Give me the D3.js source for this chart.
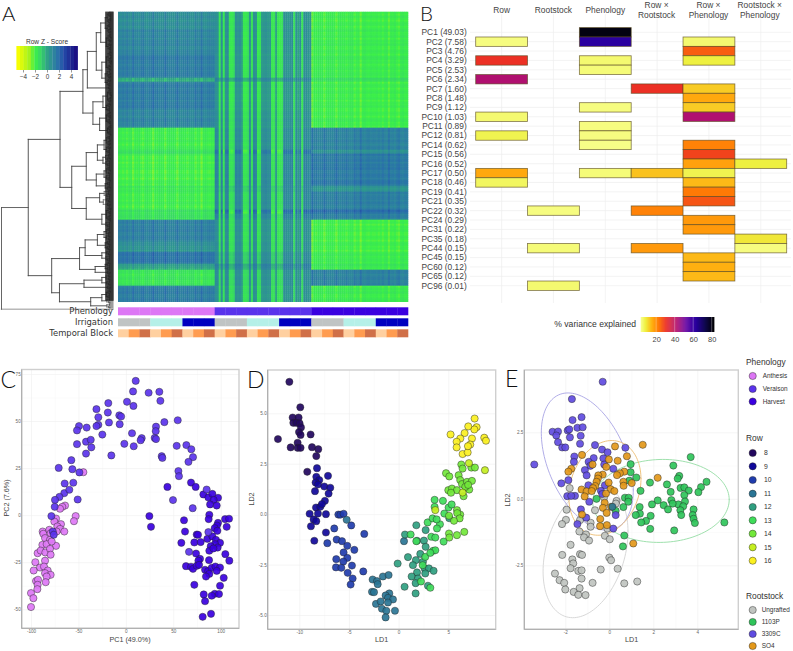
<!DOCTYPE html>
<html><head><meta charset="utf-8">
<style>html,body{margin:0;padding:0;background:#fff}svg{display:block}text{font-family:"Liberation Sans",Arial,sans-serif}</style>
<script src="https://cdn.jsdelivr.net/npm/d3@7"></script></head><body>
<div id="chart"></div>
<script>
/* ---------- A: heatmap ---------- */
const zDomain=[-5,-3,-2,-1,0,1,2,3,5];
const zColors=["#ffff00","#a4f21e","#3cf04a","#38d468","#2fa384","#2f889c","#2a6cac","#2244a4","#1a0a80"];
const legendTicksA=[-4,-2,0,2,4];
const legendStepsA=[-4.8,-4.2,-3.6,-3,-2.4,-1.8,-1.2,-.6,0,.6,1.2,1.8,2.4,3,3.6,4.2,4.8];
const bandRows=[9,12,12,2,14,9,11,2,16,3,9,2,3,11,5,6,3,8,8];
const bandCol1=[.9,1.2,1.5,-.4,1.5,1.2,-2,-1.4,-2.1,-1.7,-2,-1.5,-1.6,1.4,.7,1.8,.2,-1.7,1.5];
const bandCol3=[-2,-1.9,-1.9,-1.5,-2,-2,1.3,.8,1.6,.7,1.4,2,1.3,-2.1,-2.1,-1.9,-1.8,1.3,-1.9];
const bandMid=[-.5,-.5,-.5,.4,-.6,-.4,-.3,-.1,-.2,.1,-.2,0,-.1,-.4,-.4,0,.5,-.2,-.4];
const bandAmp=[1.2,1.3,1.2,.8,1.2,1.2,1.3,2,1.4,1.1,1.3,2.1,1.4,1.2,1.2,1,.9,1.1,1.1];
const midStripes=[1,.9,-.9,1,-1,.9,1,-.9,-1,-.7,1,.8,1,.5,-1,-1,-.8,.9,-.9,1,.9,-1,-.8,.7,.8,.9,.7,.8,-1,-.9,.4,-1,-1,-.8,1,.9,.8,.9,1,-.8,.9,.4,1,-.9,1,1,.8,.9];
const sideStripes=[.1,.2,0,.2,-.1,.2,.3,-.3,.2,.1,.3,0,-.2,.2,.3,.1,.1,-.4,.2,0,.3,.2,.2,-.3,.1,.3,.2,.3,.1,-.3,.2,.3,.1,.2,-.1,.2,.3,.3,-.2,.1,.2,-.4,.2,.3,.1,0,.2,.1];
const rowFine=[.1,-.1,.2,0,-.2,.1,.15,-.15,.05,.2,-.1,-.05,.15,-.2,.1,0,.2,-.1,-.15,.1,.05,-.2,.15,.2,-.05,.1,-.2,0,.15,-.1,.05];
const phenologyStrip=["Anthesis","Veraison","Harvest"];
const phenColors=["#dd77f5","#5a33ec","#3a00e0"];
const irrigationColors=["#c0c4c4","#b5f0e8","#0000c0"];
const blockColors=["#ffd0a0","#ff9c50","#d07048"];
/* dendrogram: [height, child, child]; a plain number is a cluster of that many leaves */
const dendroTree=[100,
 [76,
  [47.5,
   [27,
    [23,[15,[11,[7,12,10],[6,9,8]],[10,[6,14,6],[7,8,8]]],3],
    [18,[9,[5,7,6],[6,5,4]],[12,[6,7,6],[5,6,5]]]],
   [37,
    [24,[14,[8,10,8],[9,7,6]],[15,[8,8,7],[7,4,4]]],
    [24,[12,8,9],[10,[6,8,7],6]]]],
  [55,
   [30,[25,[14,[8,7,6],[7,5,5]],[10,5,6]],[16,[7,5,4],4]],
   [48,[26,[10,6,5],4],[20,[10,[6,5,4],5],5]]]],
 1];
const twigSplits=[.5,.35,.62,.44,.55,.3,.66,.48];
/* ---------- B: variance table ---------- */
const pcLabels=["PC1 (49.03)","PC2 (7.58)","PC3 (4.76)","PC4 (3.29)","PC5 (2.53)","PC6 (2.34)","PC7 (1.60)","PC8 (1.48)","PC9 (1.12)","PC10 (1.03)","PC11 (0.89)","PC12 (0.81)","PC14 (0.62)","PC15 (0.56)","PC16 (0.52)","PC17 (0.50)","PC18 (0.46)","PC19 (0.41)","PC21 (0.35)","PC22 (0.32)","PC24 (0.29)","PC31 (0.22)","PC35 (0.18)","PC44 (0.15)","PC45 (0.15)","PC60 (0.12)","PC65 (0.12)","PC96 (0.01)"];
const factorLabels=[["Row"],["Rootstock"],["Phenology"],["Row ×","Rootstock"],["Row ×","Phenology"],["Rootstock ×","Phenology"]];
const varRow=[["PC2",4],["PC4",30],["PC6",42],["PC10",5],["PC12",7],["PC17",16],["PC18",6]];
const varRootstock=[["PC22",4],["PC44",4.5],["PC96",5]];
const varPhenology=[["PC1",80],["PC2",62],["PC4",5],["PC5",4.5],["PC9",4],["PC11",4],["PC12",4],["PC14",3.5],["PC17",4.5]];
const varRowRootstock=[["PC7",30],["PC17",13],["PC22",21],["PC44",18]];
const varRowPhenology=[["PC2",5],["PC3",25],["PC4",8],["PC7",12],["PC8",16],["PC9",12],["PC10",42],["PC14",21],["PC15",28],["PC16",17],["PC17",7],["PC18",14],["PC19",22],["PC21",26],["PC24",18],["PC31",18],["PC45",14],["PC60",15],["PC65",14]];
const varRootstockPhenology=[["PC16",8],["PC35",9],["PC44",4]];
const varDomain=[3,8,15,22,30,42,52,62,72,82];
const varColors=["#f8ff90","#eef040","#ffb010","#ff7a05","#ec3024","#b01070","#6a10a8","#2a00a0","#100850","#000000"];
const varTicks=[20,40,60,80];
/* ---------- C: PCA ---------- */
const pcaAnthesis=[[-44.8,22.8],[-64.1,5.1],[-67,4.4],[-69.4,3.4],[-52.9,-.5],[-54.7,-3.2],[-73.6,-1.8],[-75.4,-3.4],[-68.4,-4.8],[-72.2,-6],[-69.4,-7.3],[-64.9,-8.7],[-87.7,-8.7],[-87,-9.9],[-80.7,-7.8],[-73,-8.7],[-79.3,-9.6],[-85.2,-12.2],[-80,-13.1],[-88,-15.8],[-83.5,-15.4],[-73.6,-16.3],[-78.2,-14],[-93,-20.2],[-89.8,-18.8],[-84.9,-19.8],[-80,-17.9],[-79.3,-21],[-85.2,-24.2],[-95.4,-25],[-90.5,-27.8],[-86.3,-27.3],[-97.2,-29.4],[-82.4,-29.4],[-85.2,-30.8],[-79.3,-31.7],[-83.5,-32.6],[-84.5,-35.6],[-94.7,-35],[-92.6,-34.3],[-93,-37],[-93.3,-39.3],[-100,-41.4],[-97.5,-44.1],[-100,-48.8]];
const pcaVeraison=[[10.4,71.3],[7.6,65.7],[24,65],[35.3,65.5],[36.4,60.7],[1.2,60.2],[8,58],[-18.5,59.5],[-31,56.3],[-19,54.5],[-29,52],[-6.9,53],[-5,52.4],[-29,48],[-31,47.3],[-17.8,49.2],[-6.5,48.3],[-49.4,47.3],[-51.5,45],[-41.3,46.5],[-24.8,42.8],[6.5,43.5],[40.6,49.4],[54.7,50.4],[31.8,47],[31.5,44.6],[30.4,41],[31.8,40.4],[16.7,40.9],[15.6,39.8],[-51.5,37.7],[-42,39],[-37,40],[-36.4,36],[-42,32.7],[-15.3,31.7],[-1.6,37.9],[8.3,36.6],[53.6,36.8],[63.8,37.2],[69,35],[70.8,30.8],[66,28.3],[37.8,31.3],[38.5,30.4],[-57.5,29.2],[-56.4,24.4],[-70.8,25.1],[-49,22.7],[55.4,23.4],[56,20.7],[-64.5,16.8],[-55.4,17.2],[-64.9,11.7],[-59.6,13.5],[-70,9.7],[-74.7,8.1],[-50.8,8.3],[-75,4.4],[-78.5,-.5],[-77,-8.7],[-76,-10.4],[49.7,8],[70.5,3.7],[85.2,13.6],[66.6,-19.5],[87,-9]];
const pcaHarvest=[[43.8,15],[68.7,17.3],[73.6,15],[81.7,11],[87,9.4],[91.2,11.3],[97.2,9.2],[92.6,8.1],[88.8,5.7],[95.8,5.1],[24.8,-.5],[26.5,-6.2],[88,.2],[87.3,-2.1],[61.3,-2.7],[104.6,-2.1],[108.8,-1.9],[106.3,-6.2],[97.2,-4.1],[96.1,-5.5],[93.7,-6.9],[96.5,-8.3],[62.4,-8.7],[74.7,-10.3],[76.1,-10.4],[85.9,-12.6],[91.2,-11.3],[58.5,-14.7],[72.2,-14.5],[78.9,-14.3],[95,-13.1],[99.3,-14.7],[94,-15.4],[96.8,-17.2],[89.5,-16.5],[88,-18.9],[92.3,-17.7],[74,-20.4],[104.9,-20.7],[78.2,-23.2],[76.5,-24.2],[109.1,-24.2],[87.7,-23.9],[63.4,-27.1],[68.7,-27.4],[70.8,-28.5],[74.7,-26.9],[77.2,-26.4],[83.5,-29],[86.7,-29.7],[90.5,-28],[94.4,-27.3],[99.3,-27.8],[95.8,-29.6],[88,-31.2],[84.5,-32.6],[103.2,-33.3],[72.2,-37],[99.3,-37.5],[82.1,-42.1],[93.7,-41.8],[98.2,-41.9],[90.5,-42.8],[83.5,-45.7],[81,-54],[89.8,-52.4]];
/* ---------- D: LDA by row ---------- */
const rowNames=["8","9","10","11","12","13","14","15","16"];
const rowColors=["#22075e","#10089a","#1f3cad","#2a7595","#2f9f80","#3fdc5a","#72e83a","#c4ee20","#fbf020"];
const ldRow8=[[-11,6.56],[-9.9,5.3],[-10.67,4.79],[-10.07,4.79],[-10.6,4.53],[-10.3,4.53],[-9.97,4.5],[-9.83,4.3],[-10.03,4.07],[-9.87,3.93],[-8.86,3.95],[-12.15,3.72],[-10.17,3.54],[-10.87,3.31],[-10.17,3.29],[-9.87,3.29],[-8.72,3.32],[-8.09,3.22],[-8.29,2.88],[-9.2,2.1]];
const ldRow9=[[-8.22,2.28],[-8.29,1.85],[-7.99,1.69],[-7.11,1.9],[-8.36,1.57],[-8.12,1.47],[-7.48,1.37],[-6.88,1.31],[-8.42,1.14],[-7.05,1.02],[-7.42,.66],[-8.32,.33],[-7.89,.36],[-7.72,.5],[-8.96,.02],[-8.12,.03],[-7.32,0],[-8.56,-.26],[-8.29,-.35],[-8.83,-.6],[-7.32,-.91],[-8.49,-1.32]];
const ldRow10=[[-6.07,-.02],[-5.87,-.03],[-5.54,.02],[-4.77,-.56],[-6.48,-.71],[-3.46,-.98],[-6.24,-1.26],[-5.7,-1.34],[-7.18,-1.44],[-5.17,-1.57],[-4.46,-1.77],[-5.54,-1.9],[-6.28,-2.23],[-5.17,-2.17],[-5.57,-2.35],[-4.7,-2.55],[-6.31,-2.64],[-5.77,-2.66],[-5.13,-2.91],[-3.56,-2.84],[-4.63,-3.19],[-4.83,-3.49]];
const ldRow11=[[-5.23,-.28],[-2.62,-3.24],[-2.18,-3.32],[-2.11,-3.47],[-1.58,-3.09],[-1.01,-3.02],[-2.68,-3.85],[-2.48,-3.87],[-.94,-3.93],[-1.31,-4.03],[-1.07,-4.15],[-.57,-4.23],[-2.28,-4.45],[-1.81,-4.33],[-1.07,-4.38],[-1.68,-4.69],[-1.24,-4.79],[-.37,-4.79],[-1.31,-5.12],[.54,-1.34]];
const ldRow12=[[1.78,-.55],[.64,-1.01],[2.72,-.79],[1.85,-1.32],[2.55,-1.31],[2.72,-1.62],[2.18,-1.97],[-.1,-2.45],[.94,-2.13],[1.74,-2.28],[2.45,-2.36],[1.44,-2.53],[2.62,-2.69],[1.85,-2.89],[3.05,-2.69],[3.52,-2.81],[2.68,-2.94],[1.31,-3.09],[1.95,-3.19],[1.71,-3.42],[.6,-3.6],[2.95,-3.55],[1.71,-3.93],[5.1,-.2]];
const ldRow13=[[1.21,-1.01],[1.78,-1.34],[2.92,-.41],[3.29,-1.12],[3.69,-1.16],[2.68,-2.12],[3.46,-1.82],[3.69,-1.79],[3.19,-1.92],[2.42,-2.53],[2.25,-3.34],[3.19,-3.65],[4.16,-.5],[4.53,-1.36],[3.42,-.21],[3.86,-.71],[3.83,-.26],[3.62,.71],[4.46,.66],[3.62,.36],[4.6,.03],[5.03,.33],[5.34,.48]];
const ldRow14=[[5.87,.2],[6.2,-.02],[5.9,.05],[6.14,-.21],[5.57,-.33],[5.07,-.08],[6.61,-.88],[5.87,-1.04],[5.07,-.96],[5.1,-1.16],[4.77,2.03],[5.1,1.87],[6.31,2.46],[6.44,2.26],[6.04,1.93],[6.2,1.69],[6.38,1.49],[6.88,1.6],[7.32,2.31],[7.68,2.31],[5,1.19],[5.37,1.27],[5.87,1.19],[5.27,1.06],[6.78,1.32],[7.38,1.65],[7.11,1.22],[6.54,.89],[6.7,1.35],[7,1.45]];
const ldRow15=[[3.69,.2],[6.44,1.07],[8.69,2.18],[7.08,2.53]];
const ldRow16=[[7.65,4.74],[7.85,4.31],[7.62,4.2],[7.01,4.35],[6.64,4.02],[5.23,3.95],[6.21,3.75],[5.84,3.59],[5.84,3.31],[7.38,3.75],[7.21,3.45],[8.62,3.79],[8.79,3.64],[6.44,2.98],[6.95,3.06],[6.98,3.37]];
/* ---------- E: LDA by rootstock ---------- */
const rootstockNames=["Ungrafted","1103P","3309C","SO4"];
const rootstockColors=["#c0c4c0","#2fc45a","#5f4be0","#e3981a"];
const ellipseColors=["#d4d4d4","#94dca4","#a8a4e4","#ecbc70"];
/* each ellipse: centre x, centre y, half width, half height, cosine of the skew */
const ellipseUngrafted=[-1.08,-1.98,1.93,2.49,.3];
const ellipse1103P=[2.35,-.08,3.1,1.56,.03];
const ellipse3309C=[-1,1.4,2.09,2.58,-.42];
const ellipseSO4=[-.2,.41,1.64,1.78,.19];
const ldUngrafted=[[-1.8,.4],[-1.94,-.41],[-1.97,-.79],[-2.15,-.95],[-1.36,-1.23],[-1.06,-1.34],[-1.15,-1.45],[-.92,-1.57],[-1.33,-.8],[-.85,-.9],[-.85,-1.05],[-.65,-.43],[-.24,.05],[.33,-.08],[.3,-.18],[-.2,-1.39],[-.09,-1.12],[.02,-1.52],[-1.76,-1.73],[-2.14,-2.11],[-1.33,-2.08],[-1.24,-2.11],[-1.68,-2.28],[-1.64,-2.43],[-1.76,-2.61],[0,-2.21],[.08,-2.31],[-.39,-2.66],[.38,-2.63],[-1.41,-2.71],[-1.26,-2.69],[-2.47,-2.81],[-1.26,-3],[-2.26,-3.06],[-2.05,-3.16],[-.76,-3.16],[.68,-3.18],[1.27,-3.11],[-2,-3.41],[-1.35,-3.36],[-1.62,-3.5],[-1.41,-3.61],[-1.08,-3.62]];
const ld1103P=[[3.7,1.57],[2.91,1.25],[3.18,.86],[3.11,.76],[.97,1.3],[.97,1],[1.23,.8],[.91,.68],[1.85,.61],[2.62,.54],[4.42,.64],[4.17,.44],[4.05,.25],[3.24,.41],[3.41,.43],[3.61,.31],[2.79,.26],[1.42,.3],[3.41,.14],[2.82,-.05],[2.2,-.06],[3.44,-.1],[1.94,-.21],[2.47,-.24],[3.14,-.21],[2.88,-.18],[3.36,-.28],[2.67,-.4],[1.38,-.31],[3.83,-.4],[3.23,-.43],[1.39,-.56],[1.2,-.61],[3.79,-.61],[3.27,-.61],[1.88,-.64],[3.83,-.75],[1.67,-.83],[1.45,-.89],[3.89,-.91],[5.23,-.89],[1.86,-1.13],[2.95,-1.19],[.68,-1.38],[.62,-1.79],[-.58,0],[.71,.04],[.88,.04],[.64,-.31],[.86,-.11],[.29,-.45]];
const ld3309C=[[-.3,4.4],[-1.7,3.75],[-1.26,3.07],[-1.67,2.96],[-2.58,2.52],[-2.33,2.53],[-1.89,2.57],[-1.82,2.61],[-1.45,2.67],[-1.21,2.69],[-2.41,2.38],[-1.79,2.31],[-1.3,2.37],[-2.33,2.13],[-1.33,2.07],[-2.14,1.93],[-2,1.93],[-.65,2.02],[-.33,1.85],[-.08,1.75],[.73,1.92],[-1.59,1.59],[-1.61,1.39],[-3.41,1.29],[-.71,1.53],[-.94,1.39],[-.27,1.52],[-.23,1.29],[-.86,1.24],[-1.11,1.08],[-1.03,.88],[.18,1.13],[-1.86,.7],[-2.18,.58],[-1.91,.1],[-1.56,.11],[-1.73,.11],[-.2,.51],[-.38,.3],[-.91,-.11],[-1.29,-.4],[-1.05,-.71],[-1.45,-.95],[.29,-.61],[.18,-1.12],[-.95,.51],[-.32,.18]];
const ldSO4=[[1.52,2.03],[.26,1.97],[-1.24,1.65],[.8,1.6],[-.02,1.48],[.38,1.43],[-.76,1.29],[-.14,1.2],[-1.73,1.13],[-1.86,1.02],[.68,1.02],[.48,.96],[.35,.89],[-.3,.91],[-.5,.88],[2.2,.79],[-.52,.76],[-.58,.64],[.64,.64],[1.02,.59],[.65,.49],[-.03,.61],[-.64,.48],[-.74,.4],[-1.26,.35],[-1.03,.28],[-.8,.29],[-1.12,.09],[.06,.36],[-.15,.2],[-.21,-.15],[.23,.29],[-.29,-.34],[-.12,-.53],[-1.24,-.59],[-.41,-.76],[-.11,-.99],[-.42,-1.03],[1.09,-1.68],[.08,-.3]];
const ldTeal=[[.14,-.3]];

/* ---------- draw ---------- */
const W=793,H=651;
const svg=d3.select("#chart").append("svg").attr("width",W).attr("height",H).attr("viewBox",`0 0 ${W} ${H}`);
const defs=svg.append("defs");
defs.append("filter").attr("id","soft").attr("x","-2%").attr("y","-2%").attr("width","104%").attr("height","104%")
  .append("feGaussianBlur").attr("stdDeviation",0.45);

/* heatmap */
const zColor=d3.scaleLinear().domain(zDomain).range(zColors).clamp(true);
const hx=d3.scaleBand().domain(d3.range(144)).range([118,408]);
const nRows=d3.sum(bandRows);
const hy=d3.scaleBand().domain(d3.range(nRows)).range([11.7,301.7]);
const cells=[];
let rowIdx=0;
bandRows.forEach((n,b)=>{
  for(let k=0;k<n;k++,rowIdx++){
    for(let c=0;c<144;c++){
      const block=Math.floor(c/48), j=c%48, fine=rowFine[rowIdx%rowFine.length];
      let z;
      if(block===0) z=bandCol1[b]+sideStripes[j]*(bandCol1[b]>0?-1:1)+fine;
      else if(block===2) z=bandCol3[b]+sideStripes[(j+17)%48]*(bandCol3[b]>0?-1:1)+fine;
      else z=bandMid[b]+bandAmp[b]*midStripes[j]+fine*.6;
      cells.push({r:rowIdx,c,z});
    }
  }
});
svg.append("g").attr("filter","url(#soft)").selectAll("rect").data(cells).join("rect")
  .attr("x",d=>hx(d.c)).attr("y",d=>hy(d.r)).attr("width",hx.bandwidth()+.3).attr("height",hy.bandwidth()+.3)
  .attr("fill",d=>zColor(d.z));

/* heat legend */
const lx=d3.scaleLinear().domain([-5,5]).range([17,77]);
const lg=svg.append("g");
lg.selectAll("rect").data(legendStepsA).join("rect")
  .attr("x",d=>lx(d-.3)).attr("y",46).attr("width",lx(.6)-lx(0)+.3).attr("height",24).attr("fill",d=>zColor(d));
lg.append("g").attr("transform","translate(0,70)")
  .call(d3.axisBottom(lx).tickValues(legendTicksA).tickSize(2.5).tickFormat(d=>d<0?"−"+(-d):d))
  .call(g=>{g.select(".domain").remove();g.selectAll("text").attr("fill","#333").style("font-size","6.3px").attr("dy","0.55em");g.selectAll("line").attr("stroke","#333").attr("stroke-width",.5);});
lg.append("text").attr("x",47).attr("y",44).attr("text-anchor","middle").attr("fill","#333").style("font-size","6.6px").text("Row Z - Score");

/* dendrogram */
const dx=d3.scaleLinear().domain([0,100]).range([113,1.5]);
const leafY=d3.scaleLinear().domain([0,290]).range([11.7,301.7]);
const dendro=svg.append("g").attr("fill","none").attr("stroke-linecap","square");
let cursor=0, splitIdx=0;
const segs=[];
function seg(x1,y1,x2,y2,w,col){segs.push({x1,y1,x2,y2,w,col});}
function clusterHeight(n,limit){return Math.min(limit*.74,n*.8+1.5);}
function layoutCluster(n,h){
  if(n<=1){const y=leafY(cursor+.5);cursor+=1;return y;}
  const r=twigSplits[splitIdx++%twigSplits.length];
  const n1=Math.max(1,Math.min(n-1,Math.round(n*r)));
  const h1=n1===1?0:clusterHeight(n1,h), h2=n-n1===1?0:clusterHeight(n-n1,h);
  const y1=layoutCluster(n1,h1), y2=layoutCluster(n-n1,h2);
  seg(dx(h),y1,dx(h1),y1,.6,"#444");seg(dx(h),y2,dx(h2),y2,.6,"#444");
  seg(dx(h),y1,dx(h),y2,.6,"#444");
  return (y1+y2)/2;
}
function walk(node){
  const [h,a,b]=node;
  const place=ch=>{
    if(typeof ch==="number"){
      if(ch===1){const y=leafY(cursor+.5);cursor+=1;return {y,h:0};}
      const hh=clusterHeight(ch,h);
      return {y:layoutCluster(ch,hh),h:hh};
    }
    return {y:walk(ch),h:ch[0]};
  };
  const pa=place(a),pb=place(b);
  const col=h>=90?"#555":"#444";
  const colB=pb.h===0&&h>=90?"#b8b8b8":col;
  seg(dx(h),pa.y,dx(pa.h),pa.y,.9,col);seg(dx(h),pb.y,dx(pb.h),pb.y,colB===col?.9:1.4,colB);
  seg(dx(h),pa.y,dx(h),pb.y,.9,col);
  return (pa.y+pb.y)/2;
}
walk(dendroTree);
dendro.selectAll("line").data(segs).join("line")
  .attr("x1",d=>d.x1).attr("y1",d=>d.y1).attr("x2",d=>d.x2).attr("y2",d=>d.y2)
  .attr("stroke",d=>d.col).attr("stroke-width",d=>d.w);
/* dense leaf end: one tick per leaf */
dendro.selectAll("line.leaf").data(d3.range(289)).join("line").attr("class","leaf")
  .attr("x1",dx(6.5)).attr("x2",dx(0)).attr("y1",d=>leafY(d+.5)).attr("y2",d=>leafY(d+.5)).attr("stroke","#222").attr("stroke-width",1.1);

/* annotation strips */
const stripX=d3.scaleBand().domain(d3.range(27)).range([118,408]);
const strips=[
 {label:"Phenology",y:307.3,color:i=>phenColors[Math.floor(i/9)]},
 {label:"Irrigation",y:318.3,color:i=>irrigationColors[Math.floor(i/3)%3]},
 {label:"Temporal Block",y:329.3,color:i=>blockColors[i%3]}];
strips.forEach(s=>{
  svg.append("g").selectAll("rect").data(d3.range(27)).join("rect")
    .attr("x",i=>stripX(i)).attr("y",s.y).attr("width",stripX.bandwidth()+.3).attr("height",8).attr("fill",s.color);
  svg.append("text").attr("x",113).attr("y",s.y+7).attr("text-anchor","end").attr("fill","#333")
    .style("font-family","DejaVu Sans").style("font-size","8.4px").text(s.label);
});

/* B */
const pcKeys=pcLabels.map(d=>d.split(" ")[0]);
const bx=d3.scaleBand().domain(d3.range(6)).range([475.7,786.7]);
const by=d3.scaleBand().domain(pcKeys).range([27.6,290.4]);
const vColor=d3.scaleLinear().domain(varDomain).range(varColors).clamp(true);
const bGrid=svg.append("g").attr("stroke","#eeeeee").attr("stroke-width",.7);
bGrid.selectAll("line.h").data(pcKeys).join("line").attr("class","h")
  .attr("x1",470).attr("x2",791).attr("y1",d=>by(d)+by.bandwidth()/2).attr("y2",d=>by(d)+by.bandwidth()/2);
bGrid.selectAll("line.v").data(d3.range(6)).join("line").attr("class","v")
  .attr("x1",d=>bx(d)+bx.bandwidth()/2).attr("x2",d=>bx(d)+bx.bandwidth()/2).attr("y1",14).attr("y2",303);
[varRow,varRootstock,varPhenology,varRowRootstock,varRowPhenology,varRootstockPhenology].forEach((arr,c)=>{
  svg.append("g").selectAll("rect").data(arr).join("rect")
    .attr("x",bx(c)).attr("width",bx.bandwidth()).attr("y",d=>by(d[0])).attr("height",by.bandwidth())
    .attr("fill",d=>vColor(d[1])).attr("stroke","#5a4a20").attr("stroke-opacity",.75).attr("stroke-width",.8);
});
svg.append("g").selectAll("text").data(pcLabels).join("text")
  .attr("x",466.7).attr("y",(d,i)=>by(pcKeys[i])+by.bandwidth()/2+2.9).attr("text-anchor","end")
  .attr("fill","#444").style("font-size","8.4px").text(d=>d);
factorLabels.forEach((lines,c)=>{
  const cx=bx(c)+bx.bandwidth()/2+(c===3||c===4?-.5:c===5?-1:0);
  const t=svg.append("text").attr("text-anchor","middle").attr("fill","#444").style("font-size","8.4px");
  if(lines.length===1) t.append("tspan").attr("x",cx).attr("y",12.7).text(lines[0]);
  else lines.forEach((l,i)=>t.append("tspan").attr("x",cx).attr("y",7.8+i*10.6).text(l));
});
const vb=d3.scaleLinear().domain([3.3,82.5]).range([640.7,714]);
svg.append("g").selectAll("rect").data(d3.range(3.3,82.5,1.1)).join("rect")
  .attr("x",d=>vb(d)).attr("y",317).attr("width",vb(1.1)-vb(0)+.4).attr("height",15).attr("fill",d=>vColor(d));
svg.append("g").attr("transform","translate(0,332)")
  .call(d3.axisBottom(vb).tickValues(varTicks).tickSize(0))
  .call(g=>{g.select(".domain").remove();g.selectAll("text").attr("fill","#444").style("font-size","7.4px").attr("dy","6.5");});
svg.append("g").selectAll("line").data(varTicks).join("line")
  .attr("x1",d=>vb(d)).attr("x2",d=>vb(d)).attr("y1",317).attr("y2",332).attr("stroke","#fff").attr("stroke-opacity",.6).attr("stroke-width",.5);
svg.append("text").attr("x",636).attr("y",327).attr("text-anchor","end").attr("fill","#333").style("font-size","8.6px").text("% variance explained");

/* scatter panels */
function panel(o){
  const x=d3.scaleLinear().domain(o.xd).range(o.xr), y=d3.scaleLinear().domain(o.yd).range(o.yr);
  const g=svg.append("g");
  const [l,r,t,b]=o.box;
  const minor=ts=>d3.pairs(ts).map(([p,q])=>(p+q)/2);
  const gridOnly=s=>{s.select(".domain").remove();s.selectAll("text").remove();s.selectAll("line").attr("stroke","#f6f6f6").attr("stroke-width",.5);};
  g.append("g").attr("transform",`translate(0,${b})`).call(d3.axisBottom(x).tickValues(minor(o.xt)).tickSize(-(b-t))).call(gridOnly);
  g.append("g").attr("transform",`translate(${l},0)`).call(d3.axisLeft(y).tickValues(minor(o.yt)).tickSize(-(r-l))).call(gridOnly);
  const style=ax=>ax.call(s=>{s.select(".domain").remove();
    s.selectAll("line").attr("stroke","#efefef").attr("stroke-width",.6);
    s.selectAll("text").attr("fill","#666").style("font-size","4.6px");});
  g.append("g").attr("transform",`translate(0,${b})`).call(d3.axisBottom(x).tickValues(o.xt).tickSize(-(b-t)).tickPadding(1.5).tickFormat(o.xf||(d=>d))).call(style);
  g.append("g").attr("transform",`translate(${l},0)`).call(d3.axisLeft(y).tickValues(o.yt).tickSize(-(r-l)).tickPadding(1).tickFormat(o.yf||(d=>d))).call(style);
  g.append("rect").attr("x",l).attr("y",t).attr("width",r-l).attr("height",b-t).attr("fill","none").attr("stroke","#cfcfcf").attr("stroke-width",1.4);
  g.append("path").attr("d",`M${l},${t}V${b}H${r}`).attr("fill","none").attr("stroke","#999").attr("stroke-width",.7);
  g.append("text").attr("x",o.xl[0]).attr("y",o.xl[1]).attr("text-anchor","middle").attr("fill","#444").style("font-size","7.2px").text(o.xl[2]);
  g.append("text").attr("transform",`translate(${o.yl[0]},${o.yl[1]}) rotate(-90)`).attr("text-anchor","middle").attr("fill","#444").style("font-size","7.2px").text(o.yl[2]);
  return {x,y,g};
}
function dots(p,data,color){
  p.g.append("g").selectAll("circle").data(data).join("circle")
    .attr("cx",d=>p.x(d[0])).attr("cy",d=>p.y(d[1])).attr("r",3.6)
    .attr("fill",color).attr("fill-opacity",.92).attr("stroke","#222").attr("stroke-opacity",.8).attr("stroke-width",.55);
}
const fmt1=d=>d===0?"0.0":d.toFixed(1);
const pC=panel({xd:[-100,100],xr:[31,220.7],yd:[-50,50],yr:[609.3,421],box:[21.7,239,369.5,628.3],
  xt:[-100,-50,0,50,100],yt:[-50,-25,0,25,50,75],xl:[130,642,"PC1 (49.0%)"],yl:[9,498,"PC2 (7.6%)"]});
dots(pC,pcaAnthesis,phenColors[0]);dots(pC,pcaHarvest,phenColors[2]);dots(pC,pcaVeraison,phenColors[1]);
const pD=panel({xd:[-10,5],xr:[299.3,448.3],yd:[-5,5],yr:[615,413.3],box:[267.7,495.7,370,629.3],
  xt:[-10,-5,0,5],yt:[-5,-2.5,0,2.5,5],yf:fmt1,xl:[381.7,642,"LD1"],yl:[254,499,"LD2"]});
[ldRow8,ldRow9,ldRow10,ldRow11,ldRow12,ldRow13,ldRow14,ldRow15,ldRow16].forEach((a,i)=>dots(pD,a,rowColors[i]));
const pE=panel({xd:[-2,4],xr:[565.3,697.3],yd:[-2.5,2.5],yr:[565.3,432.3],box:[524.3,738.3,370,629.3],
  xt:[-2,0,2,4],yt:[-2.5,0,2.5],yf:fmt1,xl:[631.7,642,"LD1"],yl:[510,500,"LD2"]});
[ellipseUngrafted,ellipse1103P,ellipse3309C,ellipseSO4].forEach((e,i)=>{
  const phi=Math.acos(e[4]);
  const line=d3.line().x(t=>pE.x(e[0]+e[2]*Math.cos(t))).y(t=>pE.y(e[1]+e[3]*Math.cos(t-phi)));
  pE.g.append("path").attr("d",line(d3.range(0,Math.PI*2+.05,.05))).attr("fill","none").attr("stroke",ellipseColors[i]).attr("stroke-width",.9);
});
dots(pE,ldUngrafted,rootstockColors[0]);dots(pE,ld1103P,rootstockColors[1]);dots(pE,ld3309C,rootstockColors[2]);dots(pE,ldSO4,rootstockColors[3]);dots(pE,ldTeal,rowColors[3]);

/* right legends */
function legend(title,titleY,names,colors,ys,labelX,size){
  const g=svg.append("g");
  g.append("text").attr("x",746).attr("y",titleY).attr("fill","#333").style("font-size","8.4px").text(title);
  g.selectAll("circle").data(names).join("circle").attr("cx",752.7).attr("cy",(d,i)=>ys[i]).attr("r",3.6)
    .attr("fill",(d,i)=>colors[i]).attr("stroke","#222").attr("stroke-opacity",.8).attr("stroke-width",.55);
  g.selectAll("text.l").data(names).join("text").attr("class","l").attr("x",labelX).attr("y",(d,i)=>ys[i]+2.3)
    .attr("fill","#333").style("font-size",size).text(d=>d);
}
legend("Phenology",365,phenologyStrip,phenColors,[376,389,401.5],762.7,"6.4px");
legend("Row",441,rowNames,rowColors,[453,466.3,480,493.7,507,520.3,533.7,547.3,560.7],764,"6.8px");
legend("Rootstock",599,rootstockNames,rootstockColors,[610,622,634,646],761.7,"6.4px");

/* panel letters */
[["A",2,21,20.5],["B",420,21,20.5],["C",0.5,388,23],["D",247,388,23],["E",505,387,23]].forEach(([t,x,y,s])=>{
  svg.append("text").attr("x",x).attr("y",y).text(t).attr("fill","#111")
    .style("font-family","Lato").style("font-weight",300).style("font-size",s+"px");
});
</script></body></html>
